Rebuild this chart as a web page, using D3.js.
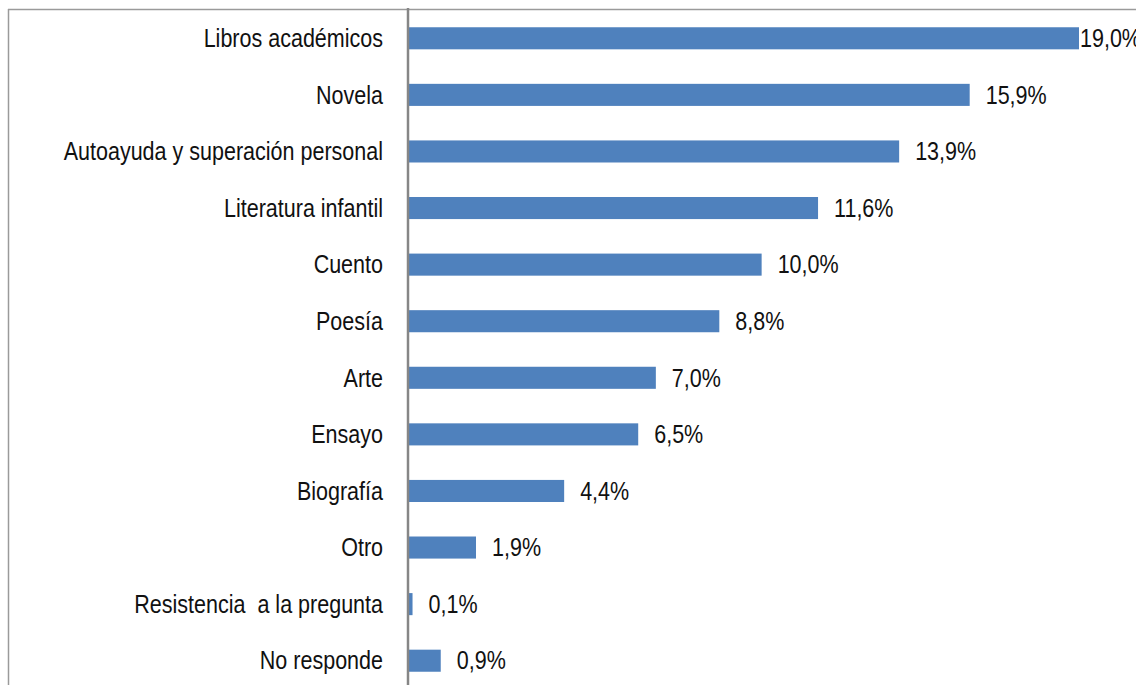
<!DOCTYPE html>
<html>
<head>
<meta charset="utf-8">
<script src="https://cdn.jsdelivr.net/npm/d3@7"></script>
<style>
  html, body { margin: 0; padding: 0; background: #fff; overflow: hidden; }
  svg { display: block; }
  text { font-family: "Liberation Sans Narrow", "Arial Narrow", "Liberation Sans", Arial, sans-serif; fill: #111; white-space: pre; }
</style>
</head>
<body>
<svg id="chart" width="1136" height="685"></svg>
<script>
// Géneros de libros preferidos (porcentaje de respuestas)
const categories = [
  "Libros académicos",
  "Novela",
  "Autoayuda y superación personal",
  "Literatura infantil",
  "Cuento",
  "Poesía",
  "Arte",
  "Ensayo",
  "Biografía",
  "Otro",
  "Resistencia  a la pregunta",
  "No responde"
];
const values = [19.0, 15.9, 13.9, 11.6, 10.0, 8.8, 7.0, 6.5, 4.4, 1.9, 0.1, 0.9];
const valueLabels = ["19,0%", "15,9%", "13,9%", "11,6%", "10,0%", "8,8%", "7,0%", "6,5%", "4,4%", "1,9%", "0,1%", "0,9%"];

const W = 1136, H = 685;
const FONT = 26.4;      // label size
const NARROW = 0.815;   // horizontal squeeze for a narrow face
const svg = d3.select("#chart");

const axisX = 409;
const x = d3.scaleLinear().domain([0, 19]).range([axisX, 1079]);
const y = d3.scaleBand().domain(categories).range([10, 689]).paddingInner(0.61).paddingOuter(0.305);

// outer frame of the chart area
svg.append("line").attr("x1", 8).attr("x2", W).attr("y1", 9.5).attr("y2", 9.5)
  .attr("stroke", "#9a9a9a").attr("stroke-width", 1.5);
svg.append("line").attr("x1", 8.5).attr("x2", 8.5).attr("y1", 9).attr("y2", H)
  .attr("stroke", "#9a9a9a").attr("stroke-width", 1.5);

// bars
svg.append("g").selectAll("rect").data(values).join("rect")
  .attr("x", x(0))
  .attr("y", (d, i) => y(categories[i]))
  .attr("width", d => x(d) - x(0))
  .attr("height", y.bandwidth())
  .attr("fill", "#4F81BD");

// category axis
const axis = svg.append("g").attr("transform", `translate(${axisX},0)`)
  .call(d3.axisLeft(y).tickSize(0).tickPadding(25));
axis.select(".domain").remove();
axis.selectAll("text")
  .attr("font-size", FONT)
  .attr("font-family", null)
  .attr("fill", "#111")
  .attr("x", -26 / NARROW)
  .attr("dy", "0.33em")
  .attr("transform", `scale(${NARROW},1)`);
svg.append("line").attr("x1", axisX - 1).attr("x2", axisX - 1).attr("y1", 8).attr("y2", H)
  .attr("stroke", "#868686").attr("stroke-width", 2.5);

// value labels
svg.append("g").selectAll("text").data(values).join("text")
  .attr("transform", (d, i) => {
    const lx = x(d) + (x(d) + 16 > 1070 ? 1 : 16);
    const ly = y(categories[i]) + y.bandwidth() / 2;
    return `translate(${lx},${ly}) scale(${NARROW},1)`;
  })
  .attr("dy", "0.33em")
  .attr("font-size", FONT)
  .text((d, i) => valueLabels[i]);
</script>
</body>
</html>
